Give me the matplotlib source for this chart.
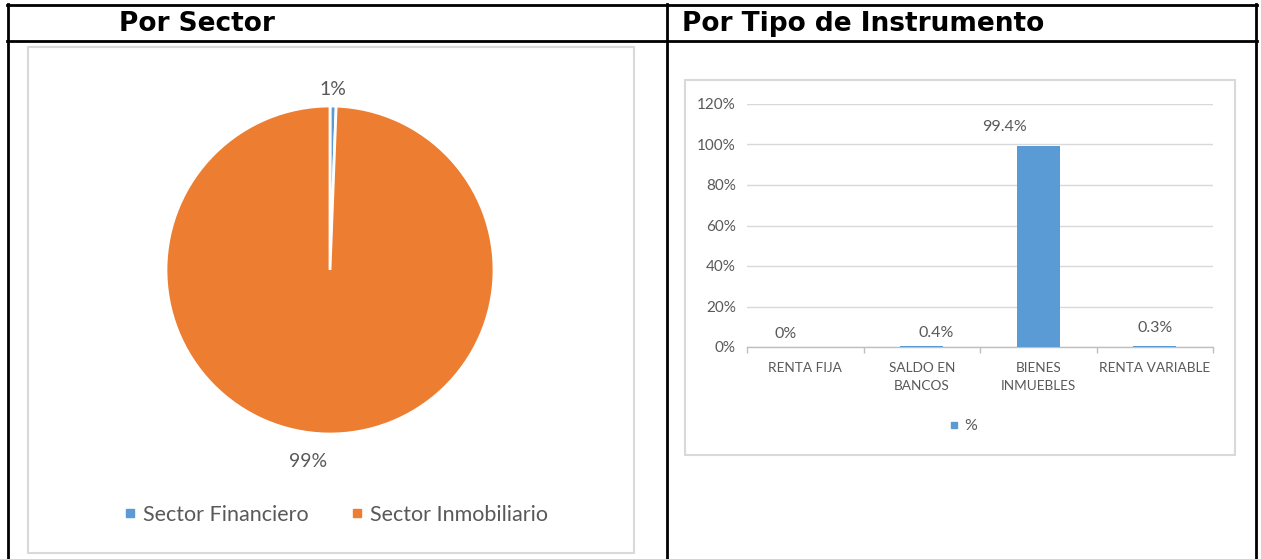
import matplotlib
matplotlib.use("Agg")
import matplotlib.pyplot as plt
from matplotlib.lines import Line2D
from matplotlib.patches import Rectangle
import numpy as np

# ---------------- data ----------------
sector_labels = ["Sector Financiero", "Sector Inmobiliario"]
sector_values = [0.6, 99.4]

instr_categories = ["RENTA FIJA", "SALDO EN\nBANCOS", "BIENES\nINMUEBLES", "RENTA VARIABLE"]
instr_values = [0.0, 0.004, 0.994, 0.003]
instr_labels = ["0%", "0.4%", "99.4%", "0.3%"]
yticks = [0, 0.2, 0.4, 0.6, 0.8, 1.0, 1.2]

title_left = "Por Sector"
title_right = "Por Tipo de Instrumento"
legend_bar = "%"

# ---------------- style ----------------
W, H = 1261, 559
BLUE = "#5B9BD5"
ORANGE = "#ED7D31"
GRAY_TXT = "#595959"
GRID = "#D9D9D9"
FONT = "Lato"

plt.rcParams["font.family"] = [FONT, "DejaVu Sans"]

fig = plt.figure(figsize=(W / 100, H / 100), dpi=100)
fig.patch.set_facecolor("white")


def rect(x0, y0, x1, y1):
    return [x0 / W, 1 - y1 / H, (x1 - x0) / W, (y1 - y0) / H]


def fx(x):
    return x / W


def fy(y):
    return 1 - y / H


# ---------------- table lines ----------------
lw_tab = 2.0
for (x0, y0, x1, y1) in [
    (7, 5, 1257, 5),      # top
    (7, 41, 1257, 41),    # header bottom
    (8, 4, 8, 559),       # left
    (667, 4, 667, 559),   # middle
    (1256, 4, 1256, 559), # right
]:
    fig.add_artist(Line2D([fx(x0), fx(x1)], [fy(y0), fy(y1)], color="black",
                          lw=lw_tab, transform=fig.transFigure))

# titles
fig.text(fx(119), fy(24), title_left, fontsize=19, fontweight="bold",
         family=["DejaVu Sans"], va="center", ha="left", color="black")
fig.text(fx(682), fy(24), title_right, fontsize=19, fontweight="bold",
         family=["DejaVu Sans"], va="center", ha="left", color="black")

# chart frames
for (x0, y0, x1, y1) in [(28, 47, 634, 553), (685, 80, 1235, 455)]:
    fig.add_artist(Rectangle((fx(x0), fy(y1)), fx(x1) - fx(x0), fy(y0) - fy(y1),
                             transform=fig.transFigure, fill=False,
                             edgecolor=GRID, lw=1.5))

# ---------------- pie ----------------
cx, cy, r = 330, 270, 164
axp = fig.add_axes(rect(cx - r, cy - r, cx + r, cy + r))
wedges, _ = axp.pie(sector_values, colors=[BLUE, ORANGE], startangle=90,
                    counterclock=False,
                    wedgeprops=dict(edgecolor="white", linewidth=2))
axp.set_xlim(-1, 1)
axp.set_ylim(-1, 1)
axp.set_aspect("equal")
axp.axis("off")

total = sum(sector_values)
label_radii = [1.1, 1.17]
label_dx = [0.0, -0.11]
for w, v, rr, dx in zip(wedges, sector_values, label_radii, label_dx):
    ang = np.deg2rad((w.theta1 + w.theta2) / 2)
    axp.text(rr * np.cos(ang) + dx, rr * np.sin(ang), f"{v / total * 100:.0f}%",
             ha="center", va="center", fontsize=14, color=GRAY_TXT, clip_on=False)

pie_handles = [Line2D([], [], marker="s", linestyle="none", markersize=6,
                      markerfacecolor=c, markeredgecolor=c) for c in [BLUE, ORANGE]]
fig.legend(pie_handles, sector_labels, loc="center", bbox_to_anchor=(fx(336), fy(515)),
           ncol=2, frameon=False, fontsize=15.5, labelcolor=GRAY_TXT,
           handlelength=0.5, handletextpad=0.35, columnspacing=2.0)

# ---------------- bar chart ----------------
axb = fig.add_axes(rect(747, 104, 1213, 347))
x = np.arange(len(instr_categories))
axb.bar(x, instr_values, width=0.37, color=BLUE, zorder=3)
axb.set_xlim(-0.5, len(instr_categories) - 0.5)
axb.set_ylim(0, 1.2)
axb.set_yticks(yticks)
axb.set_yticklabels([f"{int(round(t * 100))}%" for t in yticks])
axb.yaxis.grid(True, color=GRID, lw=1, zorder=0)
axb.set_axisbelow(True)
for s in ["top", "right", "left"]:
    axb.spines[s].set_visible(False)
axb.spines["bottom"].set_color("#BFBFBF")
axb.spines["bottom"].set_linewidth(1)
axb.tick_params(axis="y", length=0, pad=8, labelsize=11, labelcolor=GRAY_TXT)
axb.set_xticks(x)
axb.set_xticklabels(instr_categories, fontsize=9.8, color=GRAY_TXT, linespacing=1.6)
axb.tick_params(axis="x", which="major", length=0, pad=11)
axb.set_xticks(np.arange(-0.5, len(instr_categories)), minor=True)
axb.tick_params(axis="x", which="minor", length=4, color="#BFBFBF", width=1)

lab_dx = [-0.17, 0.12, -0.29, 0.0]
lab_y = [0.064, 0.069, 1.087, 0.093]
for xi, t, dx, yy in zip(x, instr_labels, lab_dx, lab_y):
    axb.text(xi + dx, yy, t, ha="center", va="center", fontsize=11.5,
             color=GRAY_TXT, clip_on=False)

bar_handle = [Line2D([], [], marker="s", linestyle="none", markersize=5,
                     markerfacecolor=BLUE, markeredgecolor=BLUE)]
fig.legend(bar_handle, [legend_bar], loc="center", bbox_to_anchor=(fx(964), fy(426)),
           frameon=False, fontsize=11.5, labelcolor=GRAY_TXT,
           handlelength=0.5, handletextpad=0.4)

fig.savefig("out.png", dpi=100, facecolor="white")
